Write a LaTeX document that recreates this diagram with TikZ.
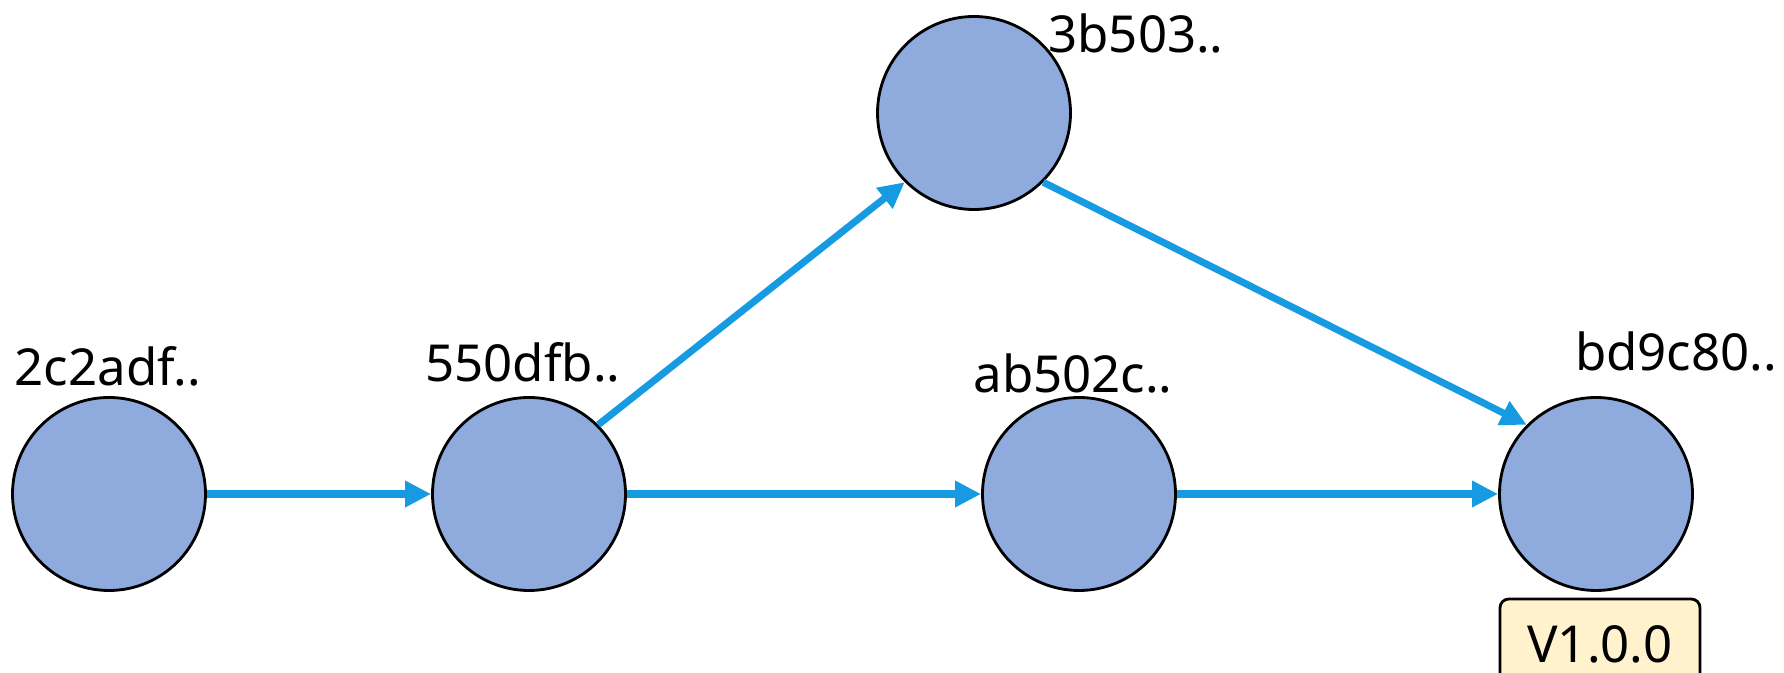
\documentclass[tikz,border=0pt]{standalone}
\usepackage{fontspec}
\setmainfont{Noto Sans}
\usepackage{tikz}
\usetikzlibrary{arrows.meta,positioning}
\definecolor{commitfill}{RGB}{143,170,220}
\definecolor{linkblue}{RGB}{22,155,226}
\definecolor{tagfill}{RGB}{255,242,204}
\tikzset{
  link/.style={-{Triangle[length=5.2mm,width=5mm]}, line width=4pt, draw=linkblue},
  commit/.style={
    circle,
    draw=black,
    line width=1.6pt,
    fill=commitfill,
    minimum size=3.86cm,
    inner sep=0pt
  },
  hashlabel/.style={font=\fontsize{29}{34}\selectfont, inner sep=0pt},
  tagbox/.style={
    draw=black,
    line width=1.6pt,
    rounded corners=5pt,
    fill=tagfill,
    minimum width=4cm,
    minimum height=1.8cm,
    font=\fontsize{29}{34}\selectfont
  }
}
\begin{document}
\begin{tikzpicture}
  \useasboundingbox (0,0) rectangle (35.68,13.46);
  % commits
  \node[commit] (c1) at (2.18,3.58) {};
  \node[commit] (c2) at (10.58,3.58) {};
  \node[commit] (c3) at (19.48,11.2) {};
  \node[commit] (c4) at (21.58,3.58) {};
  \node[commit] (c5) at (31.92,3.58) {};
  % hashes
  \node[hashlabel] (h1) at (2.16,6.14) {2c2adf..};
  \node[hashlabel] (h2) at (10.46,6.22) {550dfb..};
  \node[hashlabel] (h3) at (22.72,12.78) {3b503..};
  \node[hashlabel] (h4) at (21.46,6.0) {ab502c..};
  \node[hashlabel] (h5) at (33.52,6.42) {bd9c80..};
  \node[tagbox] (tag) at (32.0,0.58) {V1.0.0};
  % history
  \draw[link] (c1.east) -- (c2.west);
  \draw[link] (c2.45) -- (c3.225);
  \draw[link] (c2.east) -- (c4.west);
  \draw[link] (c3.-45) -- (c5.135);
  \draw[link] (c4.east) -- (c5.west);
\end{tikzpicture}
\end{document}
